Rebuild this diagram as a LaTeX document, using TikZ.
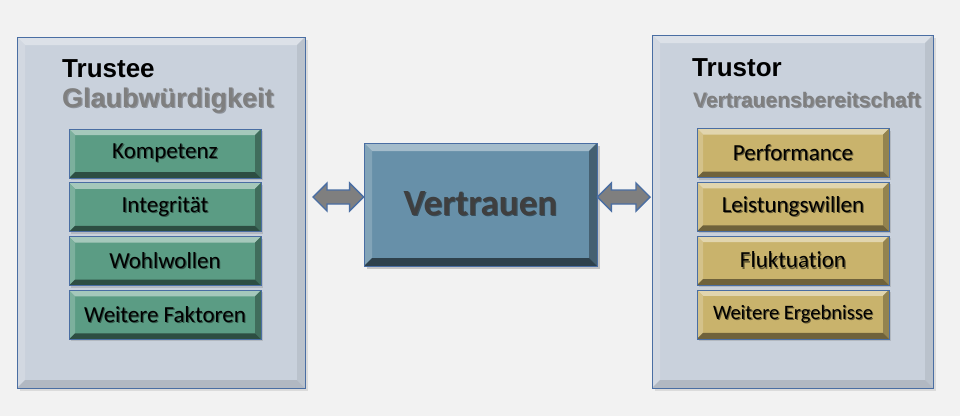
\documentclass[tikz,border=0pt]{standalone}
\usepackage{fontspec}
\setmainfont{Carlito}[Ligatures=NoCommon]
\newfontfamily\arialfont{Liberation Sans}
\usetikzlibrary{positioning,shadows,calc}

\definecolor{bggray}{HTML}{F2F2F2}
\definecolor{panelfill}{HTML}{C9D1DC}
\definecolor{edgeblue}{HTML}{4A6EA3}
\definecolor{boxgreen}{HTML}{5B9C84}
\definecolor{boxgold}{HTML}{C9B36C}
\definecolor{vblue}{HTML}{6790A9}
\definecolor{arrowgray}{HTML}{7F7F7F}
\definecolor{subgray}{HTML}{7F7F7F}
\definecolor{vtext}{HTML}{3F3F3F}

% text with a soft offset copy behind it
\def\shcol{black!40}
\newcommand{\shtext}[1]{\leavevmode\rlap{\hspace{1.1pt}\raisebox{-1.1pt}{\color{\shcol}#1}}#1}

\tikzset{
  bevel/.style n args={4}{fill=#1, draw=edgeblue, line width=0.8pt,
    path picture={
      \coordinate (bsw) at (path picture bounding box.south west);
      \coordinate (bse) at (path picture bounding box.south east);
      \coordinate (bnw) at (path picture bounding box.north west);
      \coordinate (bne) at (path picture bounding box.north east);
      \fill[#2] (bnw) -- (bne) -- ([xshift=-#4,yshift=-#4]bne) -- ([xshift=#4,yshift=-#4]bnw) -- cycle;
      \fill[#2!45!#1] (bnw) -- ([xshift=#4,yshift=-#4]bnw) -- ([xshift=#4,yshift=#4]bsw) -- (bsw) -- cycle;
      \fill[#3!60!#1] (bne) -- (bse) -- ([xshift=-#4,yshift=#4]bse) -- ([xshift=-#4,yshift=-#4]bne) -- cycle;
      \fill[#3] (bsw) -- ([xshift=#4,yshift=#4]bsw) -- ([xshift=-#4,yshift=#4]bse) -- (bse) -- cycle;
    }},
  panel/.style={bevel={panelfill}{panelfill!65!white}{panelfill!88!black}{8pt},
    minimum width=288pt, minimum height=351pt, inner sep=0pt,
    drop shadow={shadow xshift=3pt,shadow yshift=-3pt,opacity=.2}},
  box/.style={minimum width=192pt, minimum height=49pt, inner sep=0pt,
    font=\fontsize{23}{26}\selectfont,
    drop shadow={shadow xshift=2pt,shadow yshift=-2pt,opacity=.3}},
  greenbox/.style={box, bevel={boxgreen}{boxgreen!55!white}{boxgreen!50!black}{6pt},
    execute at begin node={\def\shcol{boxgreen!55!black}}},
  goldbox/.style={box, bevel={boxgold}{boxgold!55!white}{boxgold!55!black}{6pt},
    execute at begin node={\def\shcol{boxgold!50!black}}},
  title/.style={font=\arialfont\bfseries\fontsize{26}{30}\selectfont, inner sep=0pt},
  subtitle/.style={font=\arialfont\bfseries\fontsize{27}{30}\selectfont, text=subgray, inner sep=0pt,
    execute at begin node={\def\shcol{panelfill!70!black}}},
  dblarrow/.style={fill=arrowgray, draw=edgeblue, line width=1.4pt,
    to path={let \p1=(\tikztostart), \p2=(\tikztotarget) in
      (\p1) -- (\x1+14pt,\y1+14pt) -- (\x1+14pt,\y1+7pt) -- (\x2-14pt,\y2+7pt)
      -- (\x2-14pt,\y2+14pt) -- (\p2) -- (\x2-14pt,\y2-14pt) -- (\x2-14pt,\y2-7pt)
      -- (\x1+14pt,\y1-7pt) -- (\x1+14pt,\y1-14pt) -- cycle}},
}

\begin{document}
\begin{tikzpicture}[x=1pt,y=-1pt]
  \fill[bggray] (0,0) rectangle (960,416);
  \useasboundingbox (0,0) rectangle (960,416);

  % the two sides
  \node[panel] (trustee) at (161,212.5) {};
  \node[panel, minimum width=281pt, minimum height=353pt] (trustor) at (792.5,211.5) {};

  \node[title, anchor=base west] (trusteehead) at (62,77) {Trustee};
  \node[subtitle, anchor=base west] (glaub) at (62,107) {\shtext{Glaubwürdigkeit}};
  \node[title, anchor=base west] (trustorhead) at (692,76) {Trustor};
  \node[subtitle, font=\arialfont\bfseries\fontsize{21}{24}\selectfont, anchor=base west] (bereit) at (693,107) {\shtext{Vertrauensbereitschaft}};

  % factors of the trustee
  \node[greenbox] (kompetenz) at (165,153.5) {\shtext{Kompetenz}};
  \node[greenbox, below=4pt of kompetenz] (integritaet) {\shtext{Integrität}};
  \node[greenbox, below=4pt of integritaet] (wohlwollen) {\shtext{Wohlwollen}};
  \node[greenbox, below=4pt of wohlwollen] (faktoren) {\shtext{Weitere Faktoren}};

  % outcomes on the trustor side
  \node[goldbox] (performance) at (793,153) {\shtext{Performance}};
  \node[goldbox, below=4pt of performance] (leistung) {\shtext{Leistungswillen}};
  \node[goldbox, below=4pt of leistung] (fluktuation) {\shtext{Fluktuation}};
  \node[goldbox, below=4pt of fluktuation, font=\fontsize{20.5}{24}\selectfont] (ergebnisse) {\shtext{Weitere Ergebnisse}};

  % trust in the middle
  \node[bevel={vblue}{vblue!60!white}{vblue!45!black}{8pt}, minimum width=233pt, minimum height=123pt,
    drop shadow={shadow xshift=3pt,shadow yshift=-3pt,opacity=.4},
    execute at begin node={\def\shcol{vblue!55!black}},
    font=\bfseries\fontsize{37}{40}\selectfont, text=vtext] (vertrauen) at (480.5,204.5) {\shtext{Vertrauen}};

  \coordinate (la) at (313,197);
  \coordinate (ra) at (650,197);
  \draw[dblarrow] (la) to ([yshift=7.5pt]vertrauen.west);
  \draw[dblarrow] ([yshift=7.5pt]vertrauen.east) to (ra);
\end{tikzpicture}
\end{document}
